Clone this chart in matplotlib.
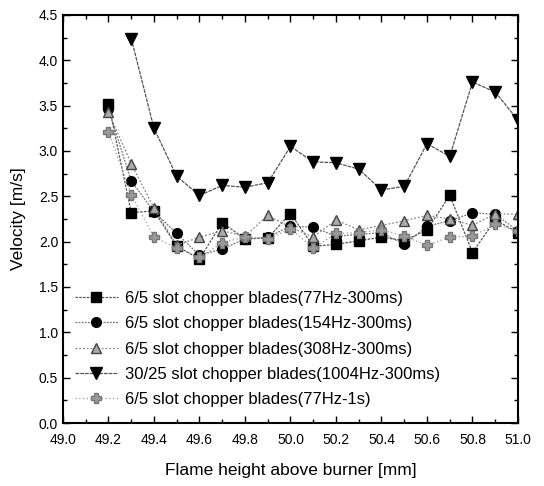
import matplotlib
matplotlib.use("Agg")
import matplotlib.pyplot as plt
import numpy as np
from matplotlib.ticker import MultipleLocator

plt.rcParams['font.family'] = ['Liberation Sans', 'DejaVu Sans']

# flame height positions [mm]
height = [49.2, 49.3, 49.4, 49.5, 49.6, 49.7, 49.8, 49.9, 50.0, 50.1,
          50.2, 50.3, 50.4, 50.5, 50.6, 50.7, 50.8, 50.9, 51.0]
height_1004 = height[1:]

# velocities [m/s]
v_77 = [3.52, 2.32, 2.34, 1.95, 1.81, 2.21, 2.03, 2.04, 2.31, 1.95,
        1.97, 2.01, 2.05, 2.01, 2.13, 2.51, 1.88, 2.24, 2.10]
v_154 = [3.46, 2.67, 2.33, 2.09, 1.85, 1.92, 2.03, 2.05, 2.17, 2.16,
         2.06, 2.08, 2.10, 1.97, 2.17, 2.23, 2.32, 2.30, 2.12]
v_308 = [3.43, 2.86, 2.37, 1.96, 2.05, 2.12, 2.06, 2.29, 2.16, 2.05,
         2.24, 2.13, 2.18, 2.23, 2.29, 2.25, 2.18, 2.31, 2.30]
v_1004 = [4.24, 3.25, 2.72, 2.51, 2.62, 2.60, 2.65, 3.05, 2.88, 2.87,
          2.80, 2.57, 2.61, 3.08, 2.94, 3.76, 3.65, 3.34]
v_77_1s = [3.21, 2.52, 2.05, 1.93, 1.83, 1.99, 2.05, 2.03, 2.14, 1.93,
           2.09, 2.10, 2.13, 2.06, 1.96, 2.05, 2.06, 2.19, 2.12]

labels = ["6/5 slot chopper blades(77Hz-300ms)",
          "6/5 slot chopper blades(154Hz-300ms)",
          "6/5 slot chopper blades(308Hz-300ms)",
          "30/25 slot chopper blades(1004Hz-300ms)",
          "6/5 slot chopper blades(77Hz-1s)"]

fig = plt.figure(figsize=(5.44, 4.86), dpi=100)
ax = fig.add_axes([0.1158, 0.1296, 0.8364, 0.8396])

ax.plot(height, v_77, color='#555555', lw=0.9, ls=(0, (2, 1)),
        marker='s', ms=6.5, mfc='black', mec='black', label=labels[0])
ax.plot(height, v_154, color='#777777', lw=0.9, ls=(0, (1.5, 1)),
        marker='o', ms=7, mfc='black', mec='black', label=labels[1])
ax.plot(height, v_308, color='#888888', lw=0.9, ls=(0, (1.5, 1.5)),
        marker='^', ms=7, mfc='#aaaaaa', mec='#444444', label=labels[2])
ax.plot(height_1004, v_1004, color='#555555', lw=0.9, ls=(0, (3, 0.8)),
        marker='v', ms=9, mfc='black', mec='black', label=labels[3])
ax.plot(height, v_77_1s, color='#999999', lw=0.9, ls=(0, (1, 2)),
        marker='P', ms=7, mfc='#999999', mec='#777777', label=labels[4])

ax.set_xlim(49.0, 51.0)
ax.set_ylim(0.0, 4.5)
ax.xaxis.set_major_locator(MultipleLocator(0.2))
ax.xaxis.set_minor_locator(MultipleLocator(0.1))
ax.yaxis.set_major_locator(MultipleLocator(0.5))
ax.yaxis.set_minor_locator(MultipleLocator(0.25))
ax.xaxis.set_major_formatter(plt.FormatStrFormatter('%.1f'))
ax.yaxis.set_major_formatter(plt.FormatStrFormatter('%.1f'))
ax.tick_params(which='both', direction='in', top=True, right=True, labelsize=10)
ax.tick_params(which='major', length=5, width=1)
ax.tick_params(which='minor', length=3, width=1)
ax.tick_params(axis='x', which='major', pad=7)
for s in ax.spines.values():
    s.set_linewidth(1.5)

ax.set_xlabel("Flame height above burner [mm]", fontsize=12.5, labelpad=12)
ax.set_ylabel("Velocity [m/s]", fontsize=12.5, labelpad=9)

ax.legend(loc='lower left', frameon=False, fontsize=12, handlelength=2.6,
          handletextpad=0.4, labelspacing=0.62, borderaxespad=0.3,
          bbox_to_anchor=(0.0, 0.01))

fig.savefig("out.png", dpi=100)
